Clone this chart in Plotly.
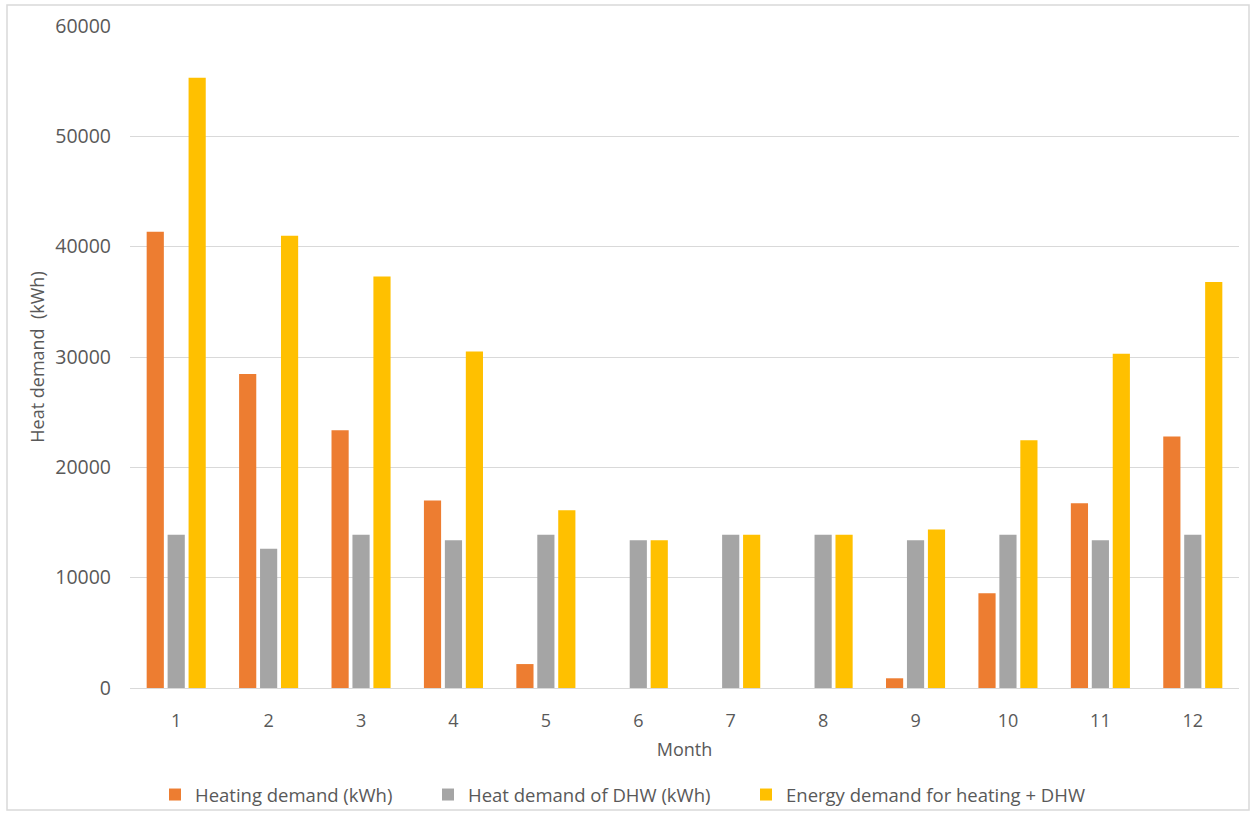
import plotly.graph_objects as go

months = [str(m) for m in range(1, 13)]
heating = [41350, 28450, 23350, 17000, 2170, 0, 0, 0, 880, 8580, 16750, 22800]
dhw = [13900, 12620, 13900, 13400, 13900, 13400, 13900, 13900, 13400, 13900, 13400, 13900]
total = [55300, 41000, 37300, 30500, 16100, 13400, 13900, 13900, 14370, 22450, 30300, 36800]

series_names = ["Heating demand (kWh)", "Heat demand of DHW (kWh)", "Energy demand for heating + DHW"]
colors = ["#ED7D31", "#A5A5A5", "#FFC000"]
legend_ids = ["legend", "legend2", "legend3"]

FONT = "Open Sans"
TXT = "#595959"

W, H = 1253, 816
L, R, T, B = 130, 14, 26, 128
pw, ph = W - L - R, H - T - B

fig = go.Figure()
for name, vals, col, lg in zip(series_names, [heating, dhw, total], colors, legend_ids):
    fig.add_trace(go.Bar(x=months, y=vals, name=name, legend=lg,
                         marker=dict(color=col, line=dict(width=0))))

legend_px = [155, 428, 746]
leg_y = (H - B - 795) / ph
leg_common = dict(orientation="h", xanchor="left", y=leg_y, yanchor="middle",
                  bgcolor="rgba(0,0,0,0)", font=dict(size=18.5, color=TXT, family=FONT))
legends = {}
for lg, px in zip(legend_ids, legend_px):
    legends[lg] = dict(x=(px - L) / pw, **leg_common)

fig.update_layout(
    width=W, height=H,
    margin=dict(l=L, r=R, t=T, b=B, autoexpand=False),
    paper_bgcolor="white", plot_bgcolor="white",
    barmode="group", bargap=0.32, bargroupgap=0.18,
    font=dict(family=FONT, color=TXT, size=17),
    showlegend=True,
    xaxis=dict(type="category", showgrid=False, showline=True, linecolor="#D9D9D9", linewidth=1,
               ticks="", tickfont=dict(size=18, color=TXT), ticklabelstandoff=16, automargin=False,
               title=dict(text="Month", font=dict(size=18, color=TXT), standoff=12)),
    yaxis=dict(range=[0, 60000], dtick=10000, showgrid=True, gridcolor="#D9D9D9", gridwidth=1,
               zeroline=False, showline=False, ticks="", tickformat="d", automargin=False,
               tickfont=dict(size=19.5, color=TXT), ticklabelstandoff=18,
               title=dict(text="Heat demand  (kWh)", font=dict(size=18, color=TXT), standoff=5)),
    shapes=[dict(type="rect", xref="paper", yref="paper",
                 x0=(7 - L) / pw, x1=(1249 - L) / pw,
                 y0=(H - B - 810) / ph, y1=(H - B - 5) / ph,
                 line=dict(color="#D9D9D9", width=1.5), fillcolor="rgba(0,0,0,0)", layer="below")],
    **legends,
)

fig.write_html("out.html")
